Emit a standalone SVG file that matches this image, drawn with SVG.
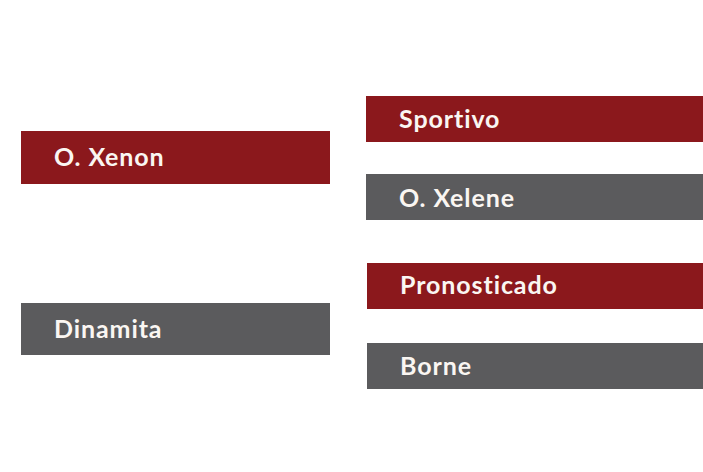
<svg xmlns="http://www.w3.org/2000/svg" width="703" height="472" viewBox="0 0 703 472">
<style>
.red{fill:#8b181c}
.gray{fill:#5b5b5d}
text{font-family:"Lato","Open Sans","Liberation Sans",sans-serif;font-weight:bold;font-size:25px;letter-spacing:0.9px;fill:#faf6f2}
</style>
<rect width="703" height="472" fill="#ffffff"/>
<g id="connectors"></g>
<g id="o-xenon"><rect class="red" x="21" y="131" width="309" height="53"/><text x="54" y="166">O. Xenon</text></g>
<g id="dinamita"><rect class="gray" x="21" y="303" width="309" height="52"/><text x="54" y="338">Dinamita</text></g>
<g id="sportivo"><rect class="red" x="366" y="96" width="337" height="46"/><text x="399" y="128">Sportivo</text></g>
<g id="o-xelene"><rect class="gray" x="366" y="174" width="337" height="46"/><text x="399" y="207">O. Xelene</text></g>
<g id="pronosticado"><rect class="red" x="367" y="263" width="336" height="46"/><text x="400" y="294">Pronosticado</text></g>
<g id="borne"><rect class="gray" x="367" y="343" width="336" height="46"/><text x="400" y="375">Borne</text></g>
</svg>
